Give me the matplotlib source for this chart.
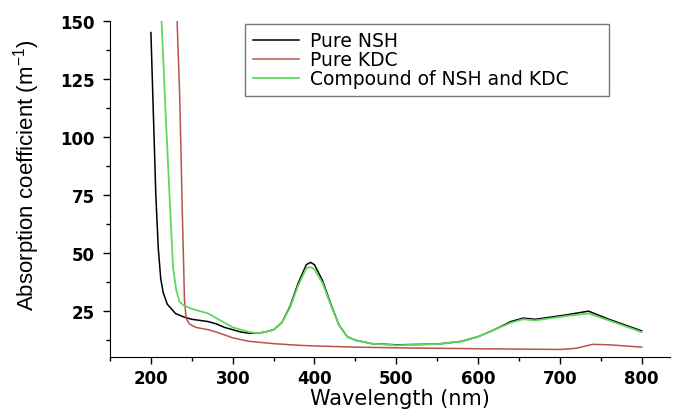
import matplotlib.pyplot as plt
from matplotlib.ticker import MultipleLocator

plt.rcParams['font.family'] = ['Liberation Sans', 'DejaVu Sans']
plt.rcParams['mathtext.default'] = 'regular'

# Pure NSH
nsh_x = [200, 203, 206, 209, 212, 215, 220, 230, 240, 250, 260, 270, 280, 290, 300,
         310, 320, 330, 340, 350, 360, 370, 380, 390, 395, 400, 410, 420, 430, 440,
         450, 470, 500, 550, 580, 600, 620, 640, 655, 670, 690, 710, 735, 760, 800]
nsh_y = [145, 110, 75, 52, 39, 33, 28, 24, 22.5, 21.5, 21, 20.5, 19.5, 18, 17,
         16, 15.5, 15.5, 16, 17, 20, 27, 37, 45, 46, 45, 38, 28, 19, 14,
         12.5, 11, 10.5, 10.8, 12, 14, 17, 20.5, 22, 21.5, 22.5, 23.5, 25, 21.5, 16.5]

# Pure KDC
kdc_x = [232, 235, 237, 238, 240, 241, 243, 247, 255, 270, 280, 300, 320, 350, 380,
         400, 450, 500, 600, 700, 720, 740, 760, 800]
kdc_y = [150, 120, 90, 73, 45, 30, 22, 19.5, 18, 17, 16, 13.5, 12, 11, 10.3,
         10, 9.5, 9.2, 8.8, 8.5, 9, 10.7, 10.5, 9.5]

# Compound of NSH and KDC
cmp_x = [213, 218, 223, 227, 231, 235, 240, 250, 260, 270, 280, 290, 300, 310,
         320, 330, 340, 350, 360, 370, 380, 390, 395, 400, 410, 420, 430, 440, 450,
         470, 500, 550, 580, 600, 620, 640, 655, 670, 690, 710, 735, 760, 800]
cmp_y = [150, 110, 73, 44, 34, 29, 27.5, 26, 25, 24, 22, 20, 18, 17,
         16, 15.5, 16, 17, 20, 26.5, 36, 43.5, 44, 43, 37, 27.5, 19, 14, 12.5,
         11, 10.3, 10.8, 12, 14, 17, 20, 21.5, 21, 22, 23, 24, 21, 16]

fig = plt.figure(figsize=(6.75, 4.14), dpi=100)
ax = fig.add_axes([0.163, 0.135, 0.83, 0.812])

ax.plot(nsh_x, nsh_y, color='black', lw=1.1, label='Pure NSH')
ax.plot(kdc_x, kdc_y, color='#b9524c', lw=1.1, label='Pure KDC')
ax.plot(cmp_x, cmp_y, color='#5ed85e', lw=1.3, label='Compound of NSH and KDC')

ax.set_xlim(150, 835)
ax.set_ylim(5.2, 150)
ax.xaxis.set_minor_locator(MultipleLocator(50))
ax.yaxis.set_minor_locator(MultipleLocator(12.5))
ax.set_xticks([200, 300, 400, 500, 600, 700, 800])
ax.set_yticks([25, 50, 75, 100, 125, 150])

ax.spines['top'].set_visible(False)
ax.spines['right'].set_visible(False)
ax.tick_params(which='major', direction='out', length=5, width=1, labelsize=12)
ax.tick_params(which='minor', direction='out', length=3, width=1)
ax.tick_params(axis='y', which='major', pad=6)
for lab in ax.get_xticklabels() + ax.get_yticklabels():
    lab.set_fontweight('bold')
    lab.set_family('DejaVu Sans')

ax.set_xlabel('Wavelength (nm)', fontsize=15, family='DejaVu Sans')
ax.xaxis.set_label_coords(0.518, -0.092)
ax.set_ylabel('Absorption coefficient (m$^{-1}$)', fontsize=16)
ax.yaxis.set_label_coords(-0.122, 0.545)

leg = ax.legend(loc='upper left', bbox_to_anchor=(0.363, 0.6, 0.539, 0.34),
                bbox_transform=fig.transFigure, mode='expand',
                prop={'family': 'DejaVu Sans', 'size': 13.5},
                frameon=True, fancybox=False, edgecolor='#555555',
                handlelength=2.5, borderpad=0.4, borderaxespad=0,
                labelspacing=0.0, handletextpad=0.55)
leg.get_frame().set_linewidth(1)

fig.savefig('out.png', dpi=100)
